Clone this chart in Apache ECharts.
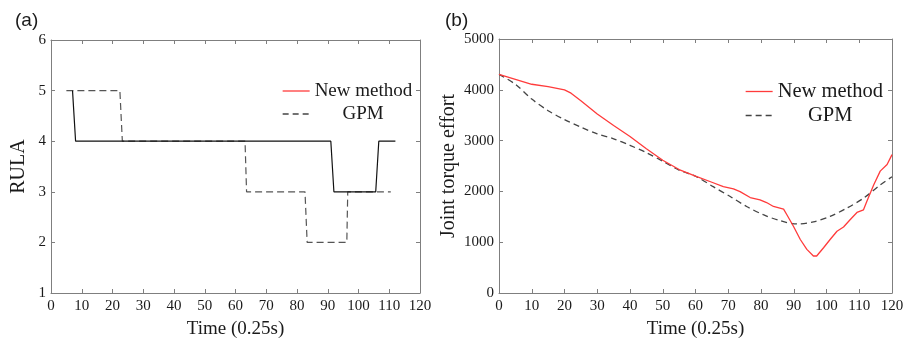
<!DOCTYPE html>
<html><head><meta charset="utf-8">
<script src="https://cdn.jsdelivr.net/npm/echarts@6/dist/echarts.min.js"></script>
<style>html,body{margin:0;padding:0;background:#fff}#c{width:907px;height:344px}</style>
</head><body><div id="c"></div>
<script>
// ---- data ----
const rulaNewT = [7, 8, 91, 92, 105.6, 106.6, 112];
const rulaNewV = [5, 4, 4, 3, 3, 4, 4];
const rulaGpmT = [5, 22.4, 23.2, 63.1, 63.6, 82.6, 83.3, 96.2, 96.5, 110.5];
const rulaGpmV = [5, 5, 4, 4, 3, 3, 2, 2, 3, 3];

const torqueNewT = [0, 5, 10, 15, 20, 22, 25, 30, 35, 40, 45, 50, 55, 60, 65, 68.5, 71.6, 73.6, 76.7, 79.7, 81.7, 83.8, 86.9, 87.9, 89.9, 92, 94, 96, 97, 99.1, 101.1, 103.2, 105.2, 107.2, 109.3, 111.3, 112.3, 114.4, 116.4, 118.5, 120];
const torqueNewV = [4304, 4207, 4109, 4064, 3999, 3934, 3784, 3524, 3296, 3082, 2841, 2614, 2430, 2300, 2180, 2093, 2048, 1996, 1879, 1834, 1781, 1703, 1651, 1541, 1313, 1053, 858, 728, 728, 891, 1053, 1216, 1300, 1443, 1586, 1638, 1801, 2126, 2399, 2529, 2724];
const torqueGpmT = [0, 5, 10, 15, 20, 25, 30, 35, 40, 45, 50, 55, 60.3, 65.4, 70.6, 75.6, 80.7, 85.8, 90.9, 96, 101.1, 106.2, 111.3, 116.4, 120];
const torqueGpmV = [4304, 4109, 3817, 3589, 3414, 3264, 3134, 3036, 2906, 2763, 2594, 2419, 2289, 2093, 1899, 1703, 1541, 1424, 1359, 1398, 1508, 1671, 1866, 2126, 2289];

const pair = (a, b) => a.map((v, i) => [v, b[i]]);
const SERIF = 'Liberation Serif';
const FRAME = '#7f7f7f';
const TXT = '#1a1a1a';

function xAx(gi, pos, show, fs, name) {
  return {
    type: 'value', gridIndex: gi, position: pos, min: 0, max: 120, interval: 10,
    name: show ? name : '', nameLocation: 'middle', nameGap: 27,
    nameTextStyle: { fontFamily: SERIF, fontSize: fs + 4, color: TXT },
    axisLine: { show: true, onZero: false, lineStyle: { color: FRAME, width: 1 } },
    axisTick: { show: true, inside: true, length: 4, lineStyle: { color: FRAME } },
    axisLabel: { show: show, margin: 6, fontFamily: SERIF, fontSize: fs, color: TXT, formatter: v => String(v) },
    splitLine: { show: false }
  };
}
function yAx(gi, pos, show, min, max, itv, fs, name, gap) {
  return {
    type: 'value', gridIndex: gi, position: pos, min: min, max: max, interval: itv,
    name: show ? name : '', nameLocation: 'middle', nameGap: gap, nameRotate: 90,
    nameTextStyle: { fontFamily: SERIF, fontSize: fs + 5, color: TXT },
    axisLine: { show: true, onZero: false, lineStyle: { color: FRAME, width: 1 } },
    axisTick: { show: true, inside: true, length: 4, lineStyle: { color: FRAME } },
    axisLabel: { show: show, margin: 5, fontFamily: SERIF, fontSize: fs, color: TXT, formatter: v => String(v) },
    splitLine: { show: false }
  };
}
function legend(left, fs, w) {
  return {
    left: left, top: 76, orient: 'vertical', itemWidth: 27, itemHeight: 10, itemGap: 3,
    selectedMode: false,
    textStyle: { fontFamily: SERIF, fontSize: fs, color: TXT, lineHeight: 20,
      rich: { c: { fontFamily: SERIF, fontSize: fs, color: TXT, width: w, align: 'center' } } },
    formatter: n => n === 'GPM' ? '{c|GPM}' : n,
    data: [
      { name: 'New method', itemStyle: { color: 'rgba(0,0,0,0)', opacity: 0 }, lineStyle: { color: '#ff3b3b', width: 1.3, type: 'solid' } },
      { name: 'GPM', itemStyle: { color: 'rgba(0,0,0,0)', opacity: 0 }, lineStyle: { color: '#444', width: 1.3, type: [6, 4] } }
    ]
  };
}

const chart = echarts.init(document.getElementById('c'), null, { renderer: 'canvas' });
chart.setOption({
  animation: false,
  backgroundColor: '#fff',
  textStyle: { fontFamily: SERIF },
  title: [
    { text: '(a)', left: 10, top: 6, textStyle: { fontFamily: 'Liberation Sans', fontSize: 19, fontWeight: 'normal', color: TXT } },
    { text: '(b)', left: 440, top: 6, textStyle: { fontFamily: 'Liberation Sans', fontSize: 19, fontWeight: 'normal', color: TXT } }
  ],
  grid: [
    { left: 51, top: 40, width: 369, height: 256 },
    { left: 499, top: 39, width: 393, height: 257 }
  ],
  legend: [legend(277, 19, 97), legend(740, 20.5, 105)],
  xAxis: [
    xAx(0, 'bottom', true, 15, 'Time (0.25s)'), xAx(0, 'top', false, 15, ''),
    xAx(1, 'bottom', true, 15, 'Time (0.25s)'), xAx(1, 'top', false, 15, '')
  ],
  yAxis: [
    yAx(0, 'left', true, 1, 6, 1, 15, 'RULA', 22), yAx(0, 'right', false, 1, 6, 1, 15, '', 0),
    yAx(1, 'left', true, 0, 5000, 1000, 15, 'Joint torque effort', 40), yAx(1, 'right', false, 0, 5000, 1000, 15, '', 0)
  ],
  series: [
    { name: 'New method', type: 'line', xAxisIndex: 0, yAxisIndex: 0, data: pair(rulaNewT, rulaNewV), symbol: 'none',
      lineStyle: { color: '#111', width: 1.2 }, itemStyle: { color: '#111' }, z: 3 },
    { name: 'GPM', type: 'line', xAxisIndex: 0, yAxisIndex: 0, data: pair(rulaGpmT, rulaGpmV), symbol: 'none',
      lineStyle: { color: '#555', width: 1.2, type: [7, 4] }, itemStyle: { color: '#555' }, z: 2 },
    { name: 'New method', type: 'line', xAxisIndex: 2, yAxisIndex: 2, data: pair(torqueNewT, torqueNewV), symbol: 'none',
      lineStyle: { color: '#ff3b3b', width: 1.3 }, itemStyle: { color: '#ff3b3b' }, z: 3 },
    { name: 'GPM', type: 'line', xAxisIndex: 2, yAxisIndex: 2, data: pair(torqueGpmT, torqueGpmV), symbol: 'none', smooth: 0.3,
      lineStyle: { color: '#444', width: 1.3, type: [6, 4] }, itemStyle: { color: '#444' }, z: 2 }
  ]
});
</script></body></html>
